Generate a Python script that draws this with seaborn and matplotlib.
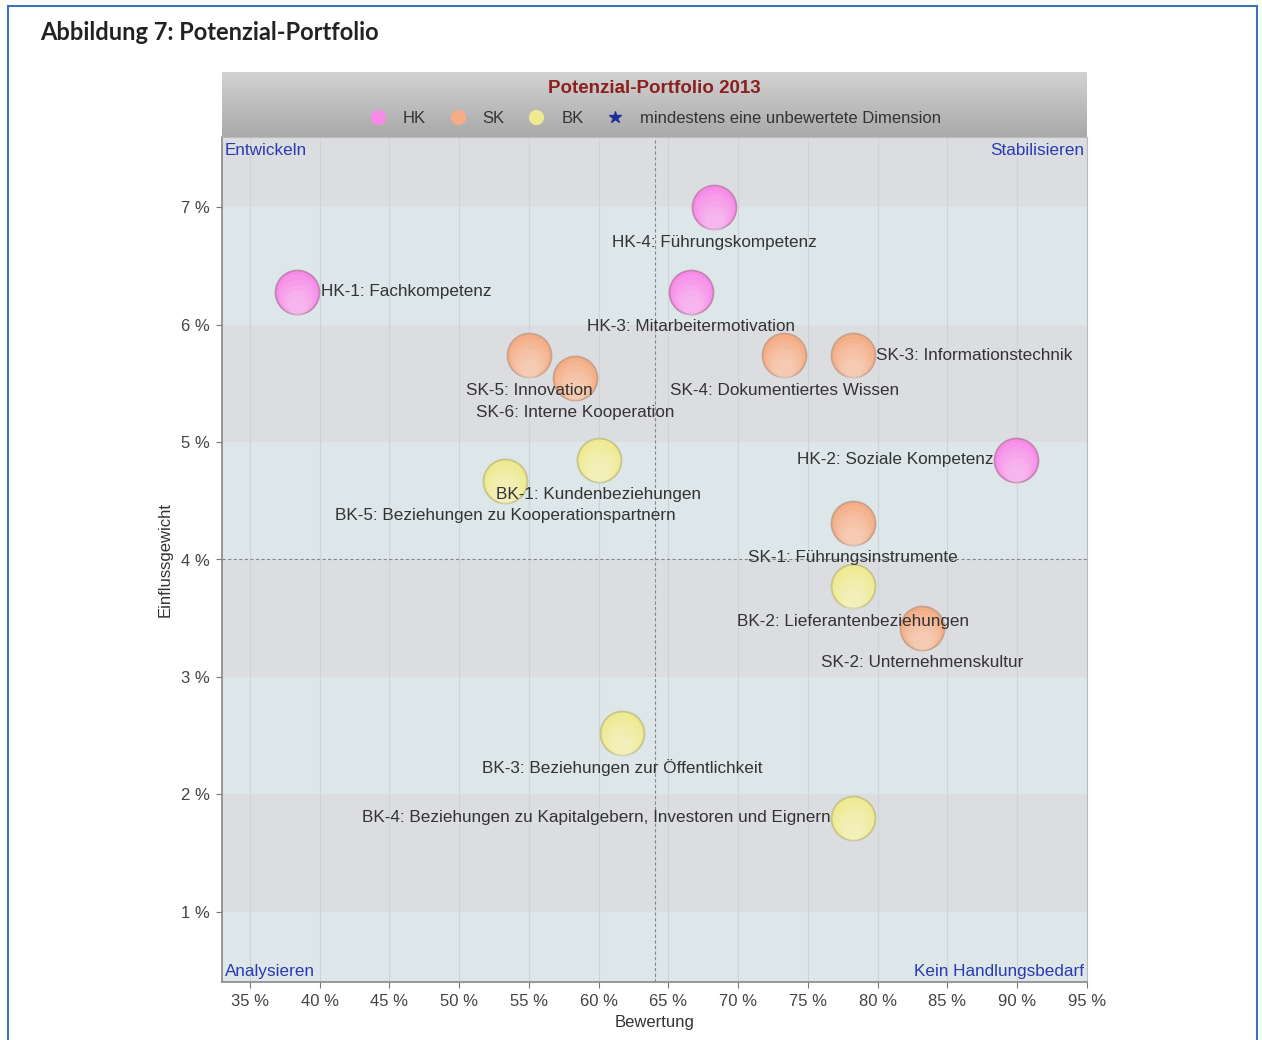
import matplotlib
matplotlib.use('Agg')
import matplotlib.pyplot as plt
import matplotlib.patches as mpatches
from matplotlib.lines import Line2D
import seaborn as sns
import pandas as pd
import numpy as np

# Portfolio data (Bewertung in %, Einflussgewicht in %)
codes = ['HK-1', 'HK-2', 'HK-3', 'HK-4',
         'SK-1', 'SK-2', 'SK-3', 'SK-4', 'SK-5', 'SK-6',
         'BK-1', 'BK-2', 'BK-3', 'BK-4', 'BK-5']
names = ['Fachkompetenz', 'Soziale Kompetenz', 'Mitarbeitermotivation', 'Führungskompetenz',
         'Führungsinstrumente', 'Unternehmenskultur', 'Informationstechnik',
         'Dokumentiertes Wissen', 'Innovation', 'Interne Kooperation',
         'Kundenbeziehungen', 'Lieferantenbeziehungen', 'Beziehungen zur Öffentlichkeit',
         'Beziehungen zu Kapitalgebern, Investoren und Eignern',
         'Beziehungen zu Kooperationspartnern']
bewertung = [38.4, 89.9, 66.6, 68.3,
             78.2, 83.2, 78.2, 73.3, 55.0, 58.3,
             60.0, 78.2, 61.7, 78.2, 53.3]
einfluss = [6.28, 4.85, 6.28, 7.00,
            4.31, 3.42, 5.74, 5.74, 5.74, 5.55,
            4.85, 3.77, 2.52, 1.80, 4.67]
gruppe = ['HK'] * 4 + ['SK'] * 6 + ['BK'] * 5
label_pos = ['right', 'left', 'below', 'below',
             'below', 'below', 'right', 'below', 'below', 'below',
             'below', 'below', 'below', 'left', 'below']

x_ticks = [35, 40, 45, 50, 55, 60, 65, 70, 75, 80, 85, 90, 95]
y_ticks = [1, 2, 3, 4, 5, 6, 7]
x_range = (33, 95)
y_range = (0.4, 7.6)

df = pd.DataFrame({'code': codes, 'name': names, 'x': bewertung,
                   'y': einfluss, 'gruppe': gruppe, 'pos': label_pos})

palette = {'HK': '#f78be8', 'SK': '#f5ad85', 'BK': '#eeea90'}
edges = {'HK': '#c584b5', 'SK': '#c9a28c', 'BK': '#c7c48c'}

sns.set_style('white')
plt.rcParams['font.family'] = ['Liberation Sans', 'DejaVu Sans']

W, H = 1262, 1040
fig = plt.figure(figsize=(W / 100, H / 100), dpi=100)

# outer blue frame
fig.add_artist(mpatches.Rectangle((8 / W, -0.05), (1257 - 8) / W, 1 - 6 / H + 0.05,
                                  transform=fig.transFigure, fill=False,
                                  edgecolor='#3b74b6', lw=1.5))
fig.text(40 / W, 1 - 32 / H, 'Abbildung 7: Potenzial-Portfolio', fontsize=17,
         fontweight='bold', family=['Lato', 'DejaVu Sans'], color='#222222',
         va='center', ha='left')

left, right, top, bottom = 222 / W, 1087 / W, 1 - 137 / H, 1 - 982 / H
ax = fig.add_axes([left, bottom, right - left, top - bottom])

# alternating bands
bounds = [y_range[0]] + y_ticks + [y_range[1]]
for i in range(len(bounds) - 1):
    col = '#dde6e9' if i % 2 == 0 else '#dcdde1'
    ax.axhspan(bounds[i], bounds[i + 1], color=col, zorder=0, lw=0)
for xt in x_ticks:
    ax.axvline(xt, color='#cdd3d7', lw=0.8, zorder=0.5)
ax.axvline(sum(x_range) / 2, color='#888888', lw=0.8, ls=(0, (3, 2)), zorder=0.6)
ax.axhline(sum(y_range) / 2, color='#888888', lw=0.8, ls=(0, (3, 2)), zorder=0.6)

for g in ['HK', 'SK', 'BK']:
    sub = df[df['gruppe'] == g]
    sns.scatterplot(data=sub, x='x', y='y', s=1000, color=palette[g],
                    edgecolor=edges[g], linewidth=1.3, ax=ax, legend=False, zorder=3)
    # soft lighter lower part to mimic the gradient
    for k, (sz, dy) in enumerate([(820, 0.02), (640, 0.04), (470, 0.065), (320, 0.09), (180, 0.11)]):
        ax.scatter(sub['x'], sub['y'] - dy, s=sz, color='white', alpha=0.09,
                   lw=0, zorder=3.1 + k * 0.01)

fs = 12.3
for _, r in df.iterrows():
    txt = f"{r['code']}: {r['name']}"
    if r['pos'] == 'below':
        ax.annotate(txt, (r['x'], r['y']), xytext=(0, -25), textcoords='offset points',
                    ha='center', va='center', fontsize=fs, color='#333333', zorder=4)
    elif r['pos'] == 'right':
        ax.annotate(txt, (r['x'], r['y']), xytext=(17, 0), textcoords='offset points',
                    ha='left', va='center', fontsize=fs, color='#333333', zorder=4)
    else:
        ax.annotate(txt, (r['x'], r['y']), xytext=(-16, 0), textcoords='offset points',
                    ha='right', va='center', fontsize=fs, color='#333333', zorder=4)

qc = '#2a3bb0'
ax.text(0.003, 0.993, 'Entwickeln', transform=ax.transAxes, ha='left', va='top', color=qc, fontsize=fs)
ax.text(0.997, 0.993, 'Stabilisieren', transform=ax.transAxes, ha='right', va='top', color=qc, fontsize=fs)
ax.text(0.003, 0.004, 'Analysieren', transform=ax.transAxes, ha='left', va='bottom', color=qc, fontsize=fs)
ax.text(0.997, 0.004, 'Kein Handlungsbedarf', transform=ax.transAxes, ha='right', va='bottom', color=qc, fontsize=fs)

ax.set_xlim(*x_range)
ax.set_ylim(*y_range)
ax.set_xticks(x_ticks)
ax.set_yticks(y_ticks)
ax.set_xticklabels([f'{v} %' for v in x_ticks], fontsize=12, color='#444444')
ax.set_yticklabels([f'{v} %' for v in y_ticks], fontsize=12, color='#444444')
ax.tick_params(axis='both', length=4, width=0.8, color='#777777', pad=5,
               bottom=True, left=True)
ax.set_xlabel('Bewertung', fontsize=12, color='#333333', labelpad=4)
ax.set_ylabel('Einflussgewicht', fontsize=12, color='#333333', labelpad=6)
for side in ['top', 'right']:
    ax.spines[side].set_color('#bbbbbb')
for side in ['left', 'bottom']:
    ax.spines[side].set_color('#888888')
    ax.spines[side].set_linewidth(1.2)

# header band with title and legend
hax = fig.add_axes([left, top, right - left, (137 - 72) / H])
grad = np.linspace(0, 1, 100).reshape(-1, 1)
hax.imshow(grad, extent=[0, 1, 0, 1], aspect='auto', origin='upper',
           cmap=matplotlib.colors.LinearSegmentedColormap.from_list('g', ['#d2d2d2', '#a9a9a9']))
hax.set_xlim(0, 1)
hax.set_ylim(0, 1)
hax.axis('off')
hax.text(0.5, 0.74, 'Potenzial-Portfolio 2013', ha='center', va='center',
         fontsize=13.5, fontweight='bold', color='#8c1f1f')
handles = [Line2D([], [], ls='', marker='o', markersize=10, markerfacecolor=palette[g],
                  markeredgecolor=palette[g]) for g in ['HK', 'SK', 'BK']]
handles.append(Line2D([], [], ls='', marker='*', markersize=9, color='#1c2f9c'))
hax.legend(handles, ['HK', 'SK', 'BK', 'mindestens eine unbewertete Dimension'],
           loc='center', bbox_to_anchor=(0.5, 0.28), ncol=4, frameon=False,
           fontsize=12, handletextpad=0.9, columnspacing=1.3, handlelength=1.2,
           labelcolor='#333333')

fig.savefig('out.png', dpi=100)
